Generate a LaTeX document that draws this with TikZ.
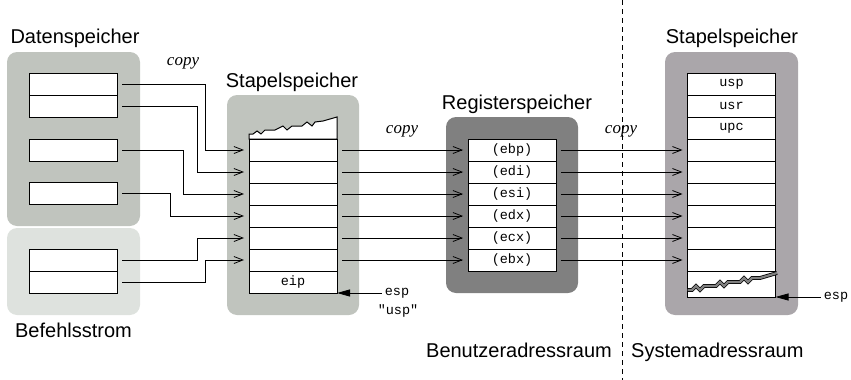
\documentclass[tikz,border=0pt]{standalone}
\usepackage{fontspec}
\setmainfont{Liberation Sans}
\setmonofont{Liberation Mono}
\newfontfamily\copyserif{Liberation Serif}
\usepackage{xcolor}
\usepackage{tikz}
\usetikzlibrary{arrows.meta,positioning}

\definecolor{datgray}{RGB}{192,196,190}
\definecolor{befgray}{RGB}{222,226,222}
\definecolor{reggray}{RGB}{128,128,128}
\definecolor{sysgray}{RGB}{170,166,170}

\begin{document}
\begin{tikzpicture}[
    x=1pt, y=-1pt,
    panel/.style={rectangle, rounded corners=10pt, inner sep=0pt, minimum width=133pt},
    cell/.style={rectangle, draw, fill=white, line width=1pt, outer sep=0pt, minimum width=88pt, minimum height=22pt, inner sep=0pt, font=\fontsize{13.5}{14}\ttfamily},
    mono/.style={inner sep=3pt, font=\fontsize{13.5}{14}\ttfamily},
    title/.style={inner sep=0pt, anchor=base, font=\fontsize{20}{24}\selectfont},
    copylabel/.style={font=\fontsize{17}{20}\copyserif\itshape},
    arrow/.style={line width=0.8pt, -{Straight Barb[length=9pt,width=7pt]}, shorten <=5pt, shorten >=5pt},
    esparrow/.style={line width=0.8pt, -{Triangle[length=13pt,width=7pt]}},
    divider/.style={line width=0.7pt, dash pattern=on 5pt off 4pt}
]
    \useasboundingbox (0,0) rectangle (851,380);

    % Panels
    \node[panel, fill=datgray, minimum height=174pt] (datpanel) at (73.5,139) {};
    \node[panel, fill=befgray, minimum height=87pt] (befpanel) at (73.5,271.5) {};
    \node[panel, fill=datgray, minimum width=132pt, minimum height=220pt] (userpanel) at (293,205) {};
    \node[panel, fill=reggray, minimum width=132pt, minimum height=176pt] (regpanel) at (512,205) {};
    \node[panel, fill=sysgray, minimum height=263pt] (syspanel) at (731.5,183.5) {};

    % Titles
    \node[title] (dattitle) at (75,43) {Datenspeicher};
    \node[title] (beftitle) at (73.5,337) {Befehlsstrom};
    \node[title] (usertitle) at (292,87) {Stapelspeicher};
    \node[title] (regtitle) at (517,109) {Registerspeicher};
    \node[title] (systitle) at (732,43) {Stapelspeicher};
    \node[title, anchor=base east] (userspace) at (612,357) {Benutzeradressraum};
    \node[title, anchor=base west] (sysspace) at (631,357) {Systemadressraum};

    % copy labels
    \node[copylabel] (copya) at (183,63) {copy};
    \node[copylabel] (copyb) at (402,131) {copy};
    \node[copylabel] (copyc) at (621,131) {copy};

    % Divider
    \coordinate (divtop) at (622,0);
    \coordinate (divbot) at (622,380);
    \draw[divider] (divtop) -- (divbot);

    % Datenspeicher
    \node[cell] (d1) at (73,84) {};
    \node[cell, below=0pt of d1] (d2) {};
    \node[cell] (d3) at (73,150) {};
    \node[cell] (d4) at (73,193) {};

    % Befehlsstrom
    \node[cell] (b1) at (73,260) {};
    \node[cell, below=0pt of b1] (b2) {};

    % User stack
    \draw[line width=1pt, fill=white] (249,139) -- (249,134) -- (253,134) -- (257,131) -- (261,134) -- (265,130) -- (275,130) -- (283,126) -- (287,130) -- (292,126) -- (302,126) -- (307,122) -- (312,126) -- (315,122) -- (323,121) -- (337,117) -- (337,139) -- cycle;
    \node[cell] (s1) at (293,150) {};
    \node[cell, below=0pt of s1] (s2) {};
    \node[cell, below=0pt of s2] (s3) {};
    \node[cell, below=0pt of s3] (s4) {};
    \node[cell, below=0pt of s4] (s5) {};
    \node[cell, below=0pt of s5] (s6) {};
    \node[cell, below=0pt of s6] (s7) {eip};

    % Registers
    \node[cell] (g1) at (512,150) {(ebp)};
    \node[cell, below=0pt of g1] (g2) {(edi)};
    \node[cell, below=0pt of g2] (g3) {(esi)};
    \node[cell, below=0pt of g3] (g4) {(edx)};
    \node[cell, below=0pt of g4] (g5) {(ecx)};
    \node[cell, below=0pt of g5] (g6) {(ebx)};

    % System stack
    \node[cell] (k1) at (731.5,84) {usp};
    \node[cell, below=0pt of k1] (k2) {usr};
    \node[cell, below=0pt of k2] (k3) {upc};
    \node[cell, below=0pt of k3] (k4) {};
    \node[cell, below=0pt of k4] (k5) {};
    \node[cell, below=0pt of k5] (k6) {};
    \node[cell, below=0pt of k6] (k7) {};
    \node[cell, below=0pt of k7] (k8) {};
    \node[cell, below=0pt of k8] (k9) {};
    \node[cell, below=0pt of k9, minimum height=26pt] (k10) {};
    \draw[line width=0.8pt, double=gray, double distance=2.2pt] (687.5,290) -- (692,290) -- (696,286) -- (700,290) -- (704,286) -- (716,286) -- (720,282) -- (724,286) -- (728,282) -- (740,282) -- (744,278) -- (748,282) -- (752,278) -- (760,278) -- (777,273);

    % Arrows - copy into user stack
    \draw[arrow] (d1.east) -- ++(88,0) |- (s1.west);
    \draw[arrow] (d2.east) -- ++(80,0) |- (s2.west);
    \draw[arrow] (d3.east) -- ++(66,0) |- (s3.west);
    \draw[arrow] (d4.east) -- ++(53,0) |- (s4.west);
    \draw[arrow] (b1.east) -- ++(80,0) |- (s5.west);
    \draw[arrow] (b2.east) -- ++(88,0) |- (s6.west);

    % Arrows - user stack to registers
    \draw[arrow] (s1) -- (g1);
    \draw[arrow] (s2) -- (g2);
    \draw[arrow] (s3) -- (g3);
    \draw[arrow] (s4) -- (g4);
    \draw[arrow] (s5) -- (g5);
    \draw[arrow] (s6) -- (g6);

    % Arrows - registers to system stack
    \draw[arrow] (g1) -- (k4);
    \draw[arrow] (g2) -- (k5);
    \draw[arrow] (g3) -- (k6);
    \draw[arrow] (g4) -- (k7);
    \draw[arrow] (g5) -- (k8);
    \draw[arrow] (g6) -- (k9);

    % Stack pointers
    \node[mono] (espuser) at (397,293) {esp};
    \node[mono] (uspnote) at (398,311) {"usp"};
    \draw[esparrow] (espuser) -- (s7.south east);
    \node[mono] (espsys) at (836,297) {esp};
    \draw[esparrow] (espsys) -- (k10.south east);

\end{tikzpicture}
\end{document}
